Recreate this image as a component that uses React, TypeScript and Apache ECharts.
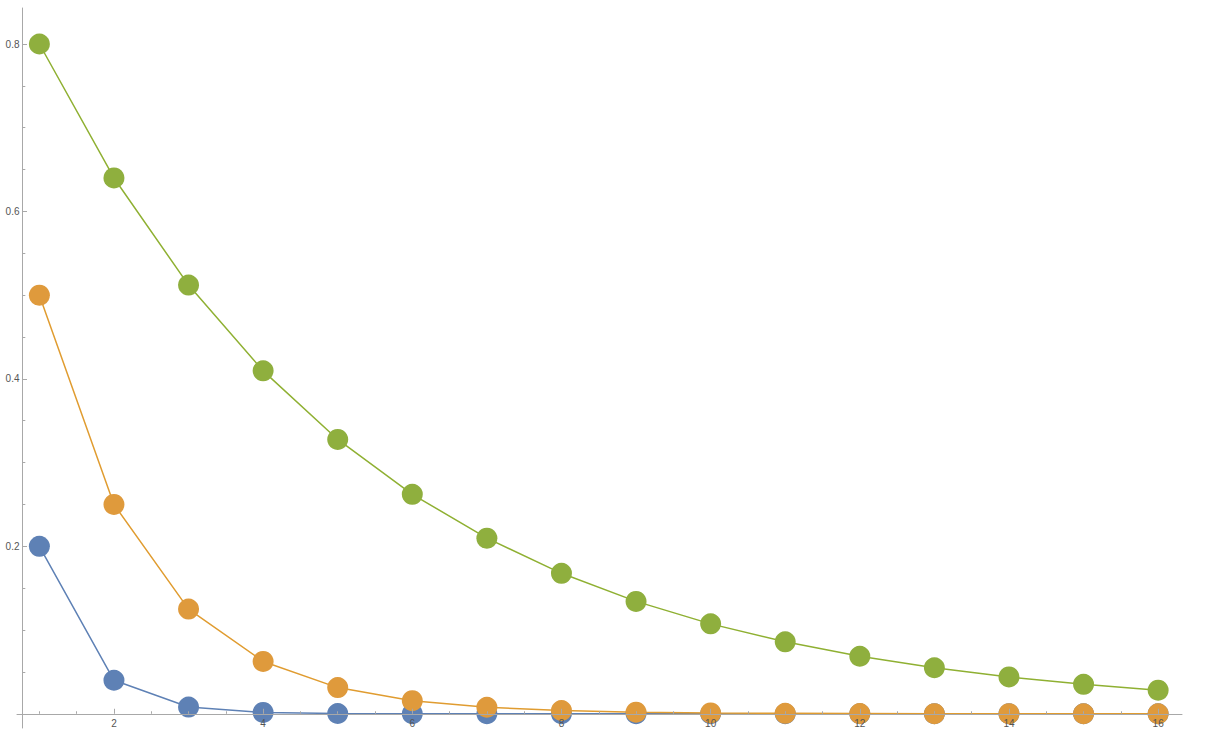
import React, { useEffect, useRef } from "react";
import * as echarts from "echarts";

const xValues = [1, 2, 3, 4, 5, 6, 7, 8, 9, 10, 11, 12, 13, 14, 15, 16];
const blueValues = [0.2, 0.04, 0.008, 0.0016, 0.00032, 0.000064, 0.0000128, 0.00000256, 0.000000512, 0.0000001, 0.00000002, 0.000000004, 0.0000000008, 0.0000000002, 0.00000000003, 0.000000000007];
const orangeValues = [0.5, 0.25, 0.125, 0.0625, 0.03125, 0.015625, 0.0078125, 0.0039, 0.00195, 0.00098, 0.00049, 0.00024, 0.00012, 0.000061, 0.000031, 0.000015];
const greenValues = [0.8, 0.64, 0.512, 0.4096, 0.32768, 0.262144, 0.209715, 0.167772, 0.134218, 0.107374, 0.085899, 0.068719, 0.054976, 0.04398, 0.035184, 0.028147];

const xMajorTicks = [2, 4, 6, 8, 10, 12, 14, 16];
const xMinorTicks = [1, 1.5, 2.5, 3, 3.5, 4.5, 5, 5.5, 6.5, 7, 7.5, 8.5, 9, 9.5, 10.5, 11, 11.5, 12.5, 13, 13.5, 14.5, 15, 15.5];
const yMajorTicks = [0.2, 0.4, 0.6, 0.8];
const yMinorTicks = [0.05, 0.1, 0.15, 0.25, 0.3, 0.35, 0.45, 0.5, 0.55, 0.65, 0.7, 0.75];

const seriesNames = ["0.2", "0.5", "0.8"];
const lineColors = ["#5E81B5", "#E09C30", "#8FB032"];
const markerColors = ["#5E81B5", "#DF9A3C", "#8FAF3E"];

const X_MIN = 0.7;
const X_MAX = 16.32;
const Y_MIN = -0.017;
const Y_MAX = 0.843;

const AXIS_COLOR = "#a8a8a8";
const LABEL_COLOR = "#555555";
const FONT = "'Liberation Sans', Arial, sans-serif";

export default function App() {
  const ref = useRef<HTMLDivElement>(null);

  useEffect(() => {
    if (!ref.current) return;
    const chart = echarts.init(ref.current, undefined, { renderer: "svg" });

    const allValues = [blueValues, orangeValues, greenValues];

    const option: any = {
      animation: false,
      backgroundColor: "#ffffff",
      grid: { left: 17, right: 23, top: 8, bottom: 11, containLabel: false, outerBoundsMode: "none" },
      xAxis: [
        {
          type: "value",
          position: "bottom",
          min: X_MIN,
          max: X_MAX,
          z: 5,
          axisLine: { show: true, onZero: true, lineStyle: { color: AXIS_COLOR, width: 1 } },
          axisTick: { show: true, inside: true, length: 5, customValues: xMajorTicks, lineStyle: { color: AXIS_COLOR, width: 1 } },
          axisLabel: { show: true, customValues: xMajorTicks, color: LABEL_COLOR, fontSize: 10, margin: -10, fontFamily: FONT },
          splitLine: { show: false },
        },
        {
          type: "value",
          position: "bottom",
          min: X_MIN,
          max: X_MAX,
          z: 5,
          axisLine: { show: true, onZero: true, lineStyle: { color: AXIS_COLOR, width: 1, opacity: 0 } },
          axisTick: { show: true, inside: true, length: 2.5, customValues: xMinorTicks, lineStyle: { color: AXIS_COLOR, width: 1 } },
          axisLabel: { show: false },
          splitLine: { show: false },
        },
      ],
      yAxis: [
        {
          type: "value",
          position: "left",
          min: Y_MIN,
          max: Y_MAX,
          offset: -5.5,
          z: 5,
          axisLine: { show: true, onZero: false, lineStyle: { color: AXIS_COLOR, width: 1 } },
          axisTick: { show: true, inside: true, length: 4.5, customValues: yMajorTicks, lineStyle: { color: AXIS_COLOR, width: 1 } },
          axisLabel: { show: true, customValues: yMajorTicks, color: LABEL_COLOR, fontSize: 10, margin: 3, fontFamily: FONT },
          splitLine: { show: false },
        },
        {
          type: "value",
          position: "left",
          min: Y_MIN,
          max: Y_MAX,
          offset: -5.5,
          z: 5,
          axisLine: { show: false, onZero: false },
          axisTick: { show: true, inside: true, length: 2.8, customValues: yMinorTicks, lineStyle: { color: AXIS_COLOR, width: 1 } },
          axisLabel: { show: false },
          splitLine: { show: false },
        },
      ],
      series: allValues.map((vals, i) => ({
        name: seriesNames[i],
        type: "line",
        xAxisIndex: 0,
        yAxisIndex: 0,
        data: xValues.map((x, j) => [x, vals[j]]),
        symbol: "circle",
        symbolSize: 21,
        showSymbol: true,
        z: 2,
        itemStyle: { color: markerColors[i], opacity: 1 },
        lineStyle: { color: lineColors[i], width: 1.5 },
        emphasis: { disabled: true },
      })),
    };

    chart.setOption(option);
    return () => {
      chart.dispose();
    };
  }, []);

  return (
    <div
      ref={ref}
      style={{ position: "fixed", left: 0, top: 0, width: 1205, height: 739, background: "#fff" }}
    />
  );
}
